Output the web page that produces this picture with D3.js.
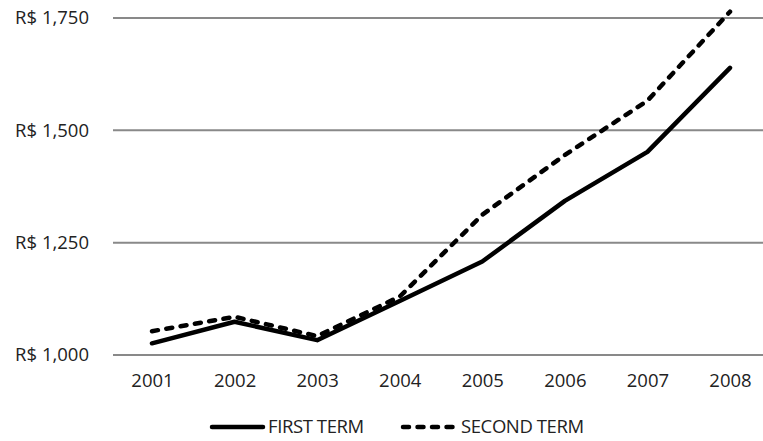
<!DOCTYPE html>
<html>
<head>
<meta charset="utf-8">
<script src="https://cdn.jsdelivr.net/npm/d3@7"></script>
<style>
  html, body { margin: 0; padding: 0; background: #fff; }
  svg { display: block; font-family: "Open Sans", "Liberation Sans", sans-serif; }
</style>
</head>
<body>
<svg id="chart" width="763" height="441"></svg>
<script>
// Average values (R$) per year for each term
const years = ["2001", "2002", "2003", "2004", "2005", "2006", "2007", "2008"];
const firstTerm = [1026, 1074, 1033, 1120, 1208, 1343, 1452, 1639];
const secondTerm = [1053, 1085, 1042, 1130, 1312, 1445, 1566, 1764];
const yTicks = [1000, 1250, 1500, 1750];
const seriesNames = ["FIRST TERM", "SECOND TERM"];

const svg = d3.select("#chart");

const x = d3.scalePoint().domain(years).range([152, 730]);
const y = d3.scaleLinear().domain([1000, 1750]).range([355, 18]);

const fmt = v => "R$ " + d3.format(",")(v);
const dashPattern = "6,8.5";
const lineWidth = 4.5;

// Horizontal gridlines
svg.append("g")
  .selectAll("line")
  .data(yTicks)
  .join("line")
  .attr("x1", 113).attr("x2", 763)
  .attr("y1", d => y(d)).attr("y2", d => y(d))
  .attr("stroke", "#898989")
  .attr("stroke-width", 2);

// Y axis labels
const yAxis = d3.axisLeft(y).tickValues(yTicks).tickFormat(fmt).tickSize(0).tickPadding(0);
svg.append("g")
  .attr("transform", "translate(89,0)")
  .call(yAxis)
  .attr("font-size", 18.5)
  .attr("font-family", "Open Sans, sans-serif")
  .call(g => g.select(".domain").remove())
  .call(g => g.selectAll("text").attr("fill", "#222"));

// X axis labels
const xAxis = d3.axisBottom(x).tickSize(0).tickPadding(0);
svg.append("g")
  .attr("transform", "translate(0,374)")
  .call(xAxis)
  .attr("font-size", 18.5)
  .attr("font-family", "Open Sans, sans-serif")
  .call(g => g.select(".domain").remove())
  .call(g => g.selectAll("text").attr("fill", "#222"));

const line = d3.line().x((d, i) => x(years[i])).y(d => y(d));

svg.append("path")
  .datum(firstTerm)
  .attr("d", line)
  .attr("fill", "none")
  .attr("stroke", "#000")
  .attr("stroke-width", lineWidth)
  .attr("stroke-linecap", "round")
  .attr("stroke-linejoin", "round");

svg.append("path")
  .datum(secondTerm)
  .attr("d", line)
  .attr("fill", "none")
  .attr("stroke", "#000")
  .attr("stroke-width", lineWidth)
  .attr("stroke-dasharray", dashPattern)
  .attr("stroke-linecap", "round")
  .attr("stroke-linejoin", "round");

// Legend
const legend = svg.append("g").attr("font-family", "Open Sans, sans-serif");
const legendItems = [
  { name: seriesNames[0], x0: 212, len: 51, dash: null },
  { name: seriesNames[1], x0: 403, len: 53, dash: dashPattern }
];
legendItems.forEach(it => {
  legend.append("line")
    .attr("x1", it.x0).attr("x2", it.x0 + it.len)
    .attr("y1", 427).attr("y2", 427)
    .attr("stroke", "#000")
    .attr("stroke-width", lineWidth)
    .attr("stroke-linecap", "round")
    .attr("stroke-dasharray", it.dash);
  legend.append("text")
    .attr("x", it.x0 + it.len + 5)
    .attr("y", 427)
    .attr("dy", "0.35em")
    .attr("font-size", 18.5)
    .attr("letter-spacing", -0.4)
    .attr("fill", "#222")
    .text(it.name);
});
</script>
</body>
</html>
